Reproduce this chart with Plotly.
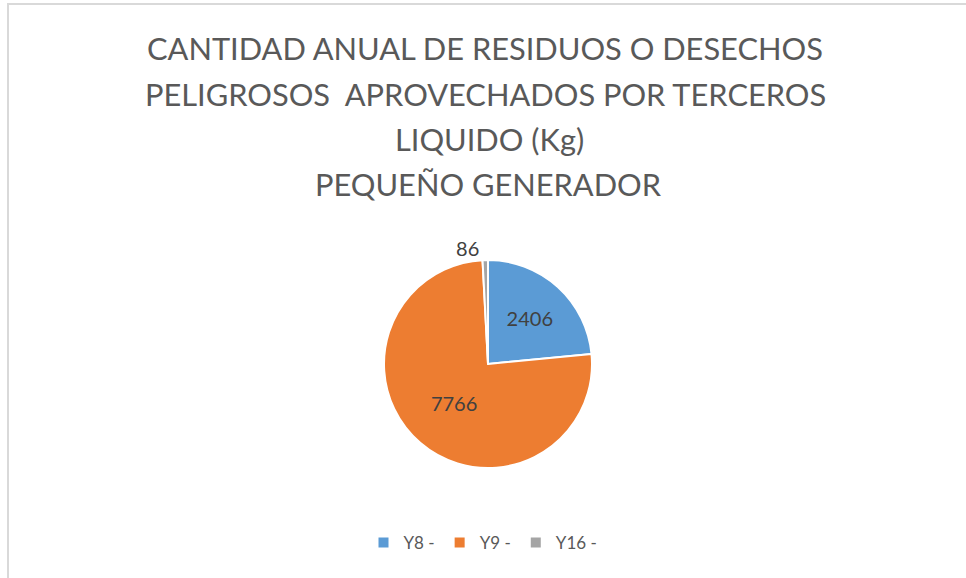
import plotly.graph_objects as go

# Data
categories = ["Y8 -", "Y9 -", "Y16 -"]
values = [2406, 7766, 86]
colors = ["#5B9BD5", "#ED7D31", "#A5A5A5"]
title_lines = [
    "CANTIDAD ANUAL DE RESIDUOS O DESECHOS",
    "PELIGROSOS  APROVECHADOS POR TERCEROS",
    "LIQUIDO (Kg)",
    "PEQUEÑO GENERADOR",
]

W, H = 966, 578
FONT = "Lato"

fig = go.Figure()
cx, cy, r = 488, 364, 104
fig.add_trace(go.Pie(
    labels=categories,
    values=values,
    sort=False,
    direction="clockwise",
    rotation=0,
    marker=dict(colors=colors, line=dict(color="white", width=2)),
    textinfo="value",
    textposition=["inside", "inside", "outside"],
    insidetextorientation="horizontal",
    textfont=dict(family=FONT, size=20, color="#404040"),
    insidetextfont=dict(family=FONT, size=20, color="#404040"),
    outsidetextfont=dict(family=FONT, size=20, color="#404040"),
    domain=dict(x=[(cx - r) / W, (cx + r) / W], y=[(H - cy - r) / H, (H - cy + r) / H]),
    showlegend=True,
    hoverinfo="label+value",
))

line_y = [49, 94, 139, 184]
line_x = [485, 485, 489, 488]
for t, yy, xx in zip(title_lines, line_y, line_x):
    fig.add_annotation(
        text=t, x=xx / W, y=1 - yy / H, xref="paper", yref="paper",
        xanchor="center", yanchor="middle", showarrow=False,
        font=dict(family=FONT, size=30.8, color="#595959"),
    )

fig.add_shape(type="rect", xref="paper", yref="paper",
              x0=8 / W, x1=1.05, y0=-0.05, y1=1 - 4 / H,
              line=dict(color="#D9D9D9", width=2), fillcolor="rgba(0,0,0,0)", layer="below")

fig.update_layout(
    width=W, height=H,
    margin=dict(l=0, r=0, t=0, b=0),
    paper_bgcolor="white", plot_bgcolor="white",
    legend=dict(orientation="h", x=0.5, xanchor="center", y=1 - 543 / H, yanchor="middle",
                font=dict(family=FONT, size=17, color="#595959"), traceorder="normal"),
)

fig.write_html("out.html",
               config={"displayModeBar": False},
               post_script="document.body.style.margin='0';document.body.style.overflow='hidden';")
